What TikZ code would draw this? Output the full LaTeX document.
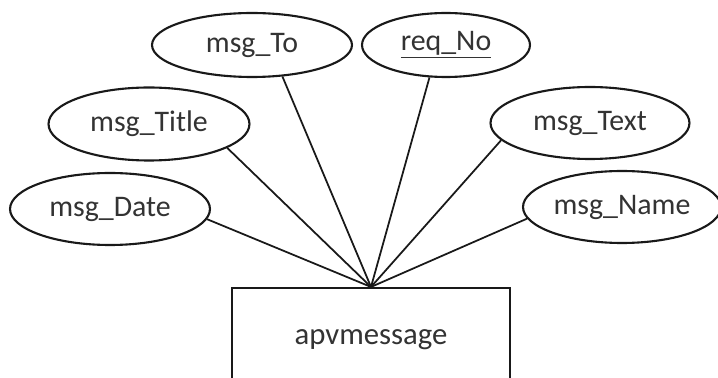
\documentclass[tikz,border=0pt]{standalone}
\usepackage{fontspec}
\setmainfont{Carlito}
\usetikzlibrary{shapes.geometric}
\begin{document}
\begin{tikzpicture}[x=0.02cm,y=-0.02cm,
  attr/.style={draw=black!90,line width=1.2pt,ellipse,inner sep=0pt,font=\fontsize{17}{20}\selectfont,text=black!80},
  ent/.style={draw=black!90,line width=1.2pt,rectangle,inner sep=0pt,font=\fontsize{17.5}{20}\selectfont,text=black!80},
  conn/.style={draw=black!90,line width=1pt}]
\clip (0,0) rectangle (718,378);
\fill[white] (0,0) rectangle (718,378);
\node[ent,minimum width=5.56cm,minimum height=2.08cm] (box) at (371,340) {apvmessage};
\node[attr,minimum width=4cm,minimum height=1.28cm] (to) at (252,45) {msg\_To};
\node[attr,minimum width=3.36cm,minimum height=1.28cm] (req) at (446,45) {\underline{req\_No}};
\node[attr,minimum width=4.02cm,minimum height=1.46cm] (title) at (149,124) {msg\_Title};
\node[attr,minimum width=3.98cm,minimum height=1.44cm] (text) at (590,123) {msg\_Text};
\node[attr,minimum width=4cm,minimum height=1.44cm] (date) at (110,209) {msg\_Date};
\node[attr,minimum width=3.96cm,minimum height=1.44cm] (name) at (622,207) {msg\_Name};
\draw[conn] (to.-46) -- (box.north);
\draw[conn] (req.-117) -- (box.north);
\draw[conn] (title.-17) -- (box.north);
\draw[conn] (date.-6.5) -- (box.north);
\draw[conn] (text.-169.5) -- (box.north);
\draw[conn] (name.-173.5) -- (box.north);
\end{tikzpicture}
\end{document}
